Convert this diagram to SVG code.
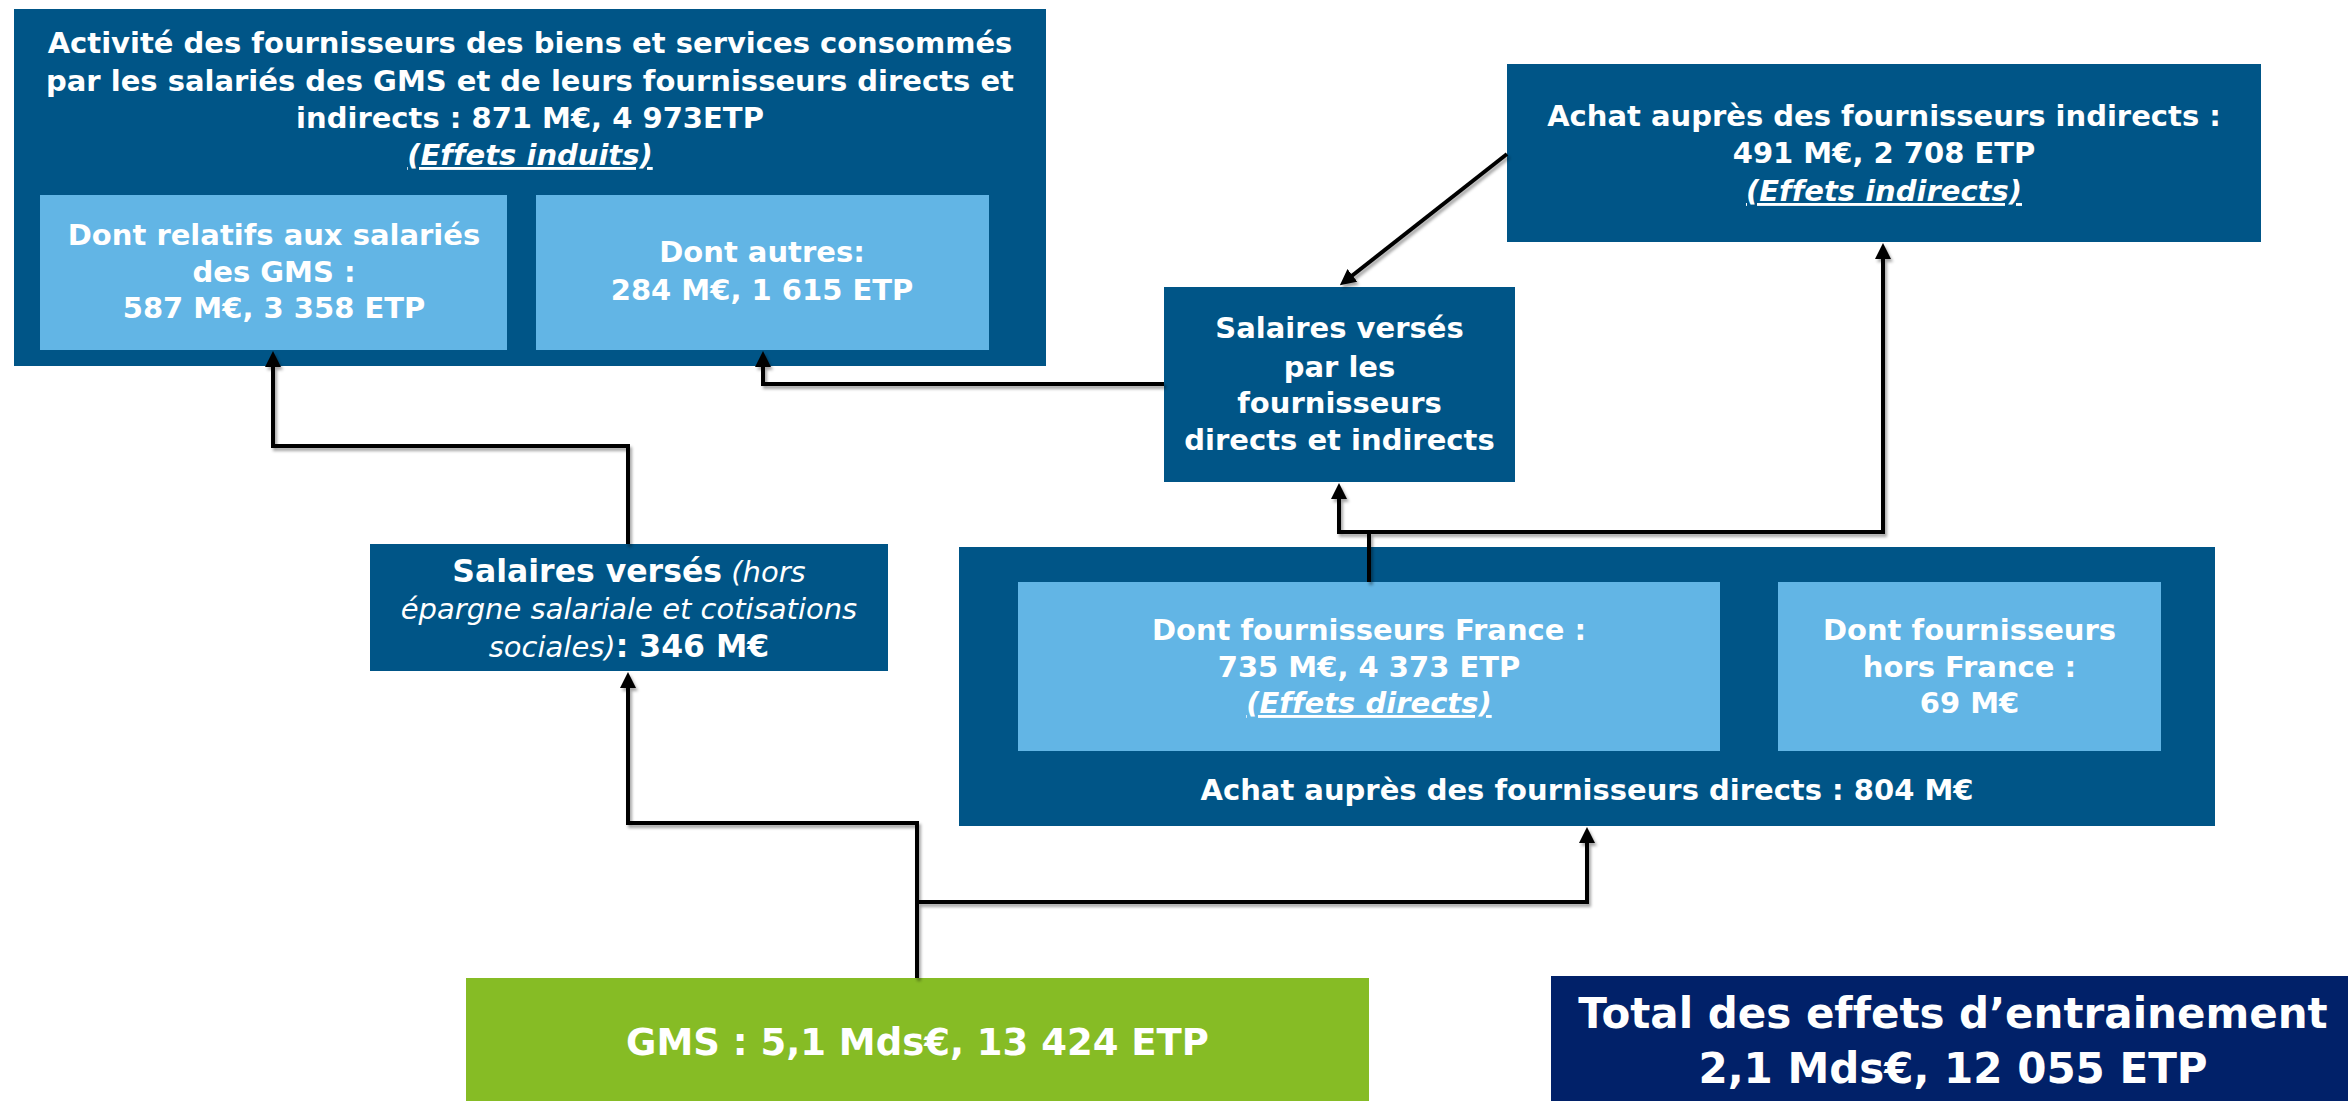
<svg xmlns="http://www.w3.org/2000/svg" width="2351" height="1101" viewBox="0 0 2351 1101">
<style>
.dark{fill:#005587}
.light{fill:#62B5E5}
.green{fill:#86BC25}
.navy{fill:#012169}
.t{font-family:"DejaVu Sans","Verdana",sans-serif;font-weight:bold;fill:#fff;text-anchor:middle;font-size:29px;font-variant-ligatures:none}
.u{font-style:italic;text-decoration:underline}
.it{font-style:italic;font-weight:normal}
.b31{font-size:31.5px}
.big{font-size:37px}
.huge{font-size:42px}
.c{fill:none;stroke:#000;stroke-width:4;stroke-linejoin:miter}
</style>
<defs>
<marker id="arr" markerUnits="userSpaceOnUse" markerWidth="16" markerHeight="16" refX="5" refY="8" orient="auto">
<path d="M0,0 L16,8 L0,16 z" fill="#000"/>
</marker>
<filter id="sh" x="-10%" y="-10%" width="120%" height="120%">
<feDropShadow dx="2" dy="3" stdDeviation="1.5" flood-color="#000" flood-opacity="0.35"/>
</filter>
</defs>

<g id="induits">
<rect class="dark" x="14" y="9" width="1032" height="357"/>
<text class="t" x="530" y="53">Activité des fournisseurs des biens et services consommés</text>
<text class="t" x="530" y="91">par les salariés des GMS et de leurs fournisseurs directs et</text>
<text class="t" x="530" y="128">indirects : 871 M€, 4 973ETP</text>
<text class="t u" x="530" y="165">(Effets induits)</text>
</g>
<g id="induits-salaries">
<rect class="light" x="40" y="195" width="467" height="155"/>
<text class="t" x="274" y="245">Dont relatifs aux salariés</text>
<text class="t" x="274" y="282">des GMS :</text>
<text class="t" x="274" y="318">587 M€, 3 358 ETP</text>
</g>
<g id="induits-autres">
<rect class="light" x="536" y="195" width="453" height="155"/>
<text class="t" x="762" y="262">Dont autres:</text>
<text class="t" x="762" y="300">284 M€, 1 615 ETP</text>
</g>

<g id="indirects">
<rect class="dark" x="1507" y="64" width="754" height="178"/>
<text class="t" x="1884" y="126">Achat auprès des fournisseurs indirects :</text>
<text class="t" x="1884" y="163">491 M€, 2 708 ETP</text>
<text class="t u" x="1884" y="201">(Effets indirects)</text>
</g>

<g id="salaires-fournisseurs">
<rect class="dark" x="1164" y="287" width="351" height="195"/>
<text class="t" x="1339.5" y="338">Salaires versés</text>
<text class="t" x="1339.5" y="377">par les</text>
<text class="t" x="1339.5" y="413">fournisseurs</text>
<text class="t" x="1339.5" y="450">directs et indirects</text>
</g>

<g id="salaires-gms">
<rect class="dark" x="370" y="544" width="518" height="127"/>
<text class="t" x="629" y="582"><tspan class="b31">Salaires versés</tspan><tspan class="it"> (hors</tspan></text>
<text class="t it" x="629" y="619">épargne salariale et cotisations</text>
<text class="t" x="629" y="657"><tspan class="it">sociales)</tspan><tspan class="b31">: 346 M€</tspan></text>
</g>

<g id="directs">
<rect class="dark" x="959" y="547" width="1256" height="279"/>
<text class="t" x="1587" y="800">Achat auprès des fournisseurs directs : 804 M€</text>
</g>
<g id="directs-france">
<rect class="light" x="1018" y="582" width="702" height="169"/>
<text class="t" x="1369" y="640">Dont fournisseurs France :</text>
<text class="t" x="1369" y="677">735 M€, 4 373 ETP</text>
<text class="t u" x="1369" y="713">(Effets directs)</text>
</g>
<g id="directs-hors-france">
<rect class="light" x="1778" y="582" width="383" height="169"/>
<text class="t" x="1969.5" y="640">Dont fournisseurs</text>
<text class="t" x="1969.5" y="677">hors France :</text>
<text class="t" x="1969.5" y="713">69 M€</text>
</g>

<g id="gms">
<rect class="green" x="466" y="978" width="903" height="123"/>
<text class="t big" x="917.5" y="1055">GMS : 5,1 Mds€, 13 424 ETP</text>
</g>

<g id="total">
<rect class="navy" x="1551" y="976" width="797" height="125"/>
<text class="t huge" x="1953" y="1028">Total des effets d’entrainement</text>
<text class="t huge" x="1953" y="1083">2,1 Mds€, 12 055 ETP</text>
</g>

<g id="connectors" filter="url(#sh)">
<path class="c" d="M917,978 V823 H628 V683" marker-end="url(#arr)"/>
<path class="c" d="M917,902 H1587 V838" marker-end="url(#arr)"/>
<path class="c" d="M628,544 V446 H273 V362" marker-end="url(#arr)"/>
<path class="c" d="M1164,384 H763 V362" marker-end="url(#arr)"/>
<path class="c" d="M1507,154 L1348.5,278.5" marker-end="url(#arr)"/>
<path class="c" d="M1369,582 V532 H1339 V494" marker-end="url(#arr)"/>
<path class="c" d="M1369,532 H1883 V254" marker-end="url(#arr)"/>
</g>
</svg>
